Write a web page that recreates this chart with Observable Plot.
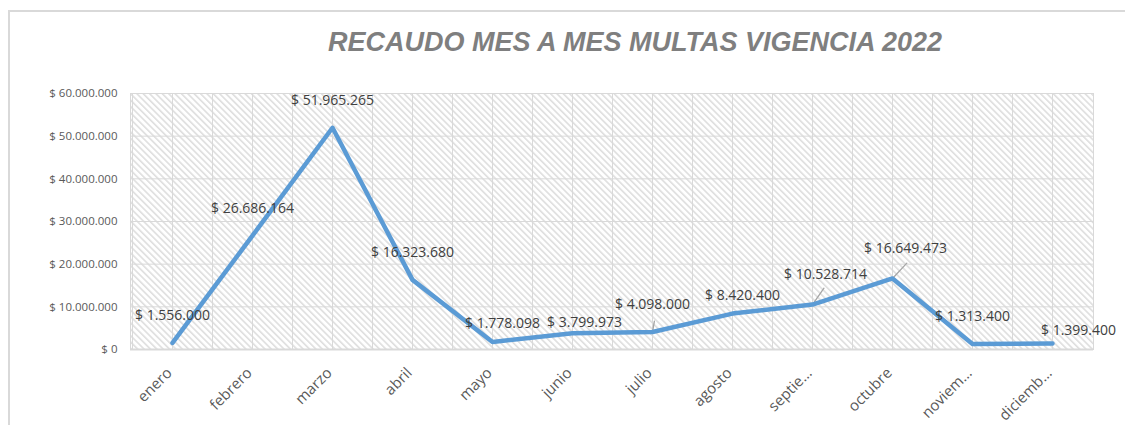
<!DOCTYPE html>
<html>
<head>
<meta charset="utf-8">
<script src="https://cdn.jsdelivr.net/npm/d3@7"></script>
<script src="https://cdn.jsdelivr.net/npm/@observablehq/plot@0.6"></script>
<style>
  body { margin: 0; background: #fff; }
  #wrap { position: relative; width: 1125px; height: 425px; overflow: hidden; }
  #border { position: absolute; left: 8px; top: 10px; width: 1300px; height: 600px;
            border-left: 2px solid #d9d9d9; border-top: 2px solid #d9d9d9; }
  #title { position: absolute; left: 135px; width: 1000px; top: 29px; margin: 0;
           text-align: center; font: italic bold 27px/26px "Liberation Sans", Arial, sans-serif;
           color: #7f7f7f; }
  #chart { position: absolute; left: 0; top: 0; }
</style>
</head>
<body>
<div id="wrap">
  <div id="border"></div>
  <div id="title">RECAUDO MES A MES MULTAS VIGENCIA 2022</div>
  <div id="chart"></div>
</div>
<script>
const months = ["enero","febrero","marzo","abril","mayo","junio","julio","agosto","septiembre","octubre","noviembre","diciembre"];
const tickLabels = ["enero","febrero","marzo","abril","mayo","junio","julio","agosto","septie...","octubre","noviem...","diciemb..."];
const values = [1556000, 26686164, 51965265, 16323680, 1778098, 3799973, 4098000, 8420400, 10528714, 16649473, 1313400, 1399400];
const yTicks = [0, 10000000, 20000000, 30000000, 40000000, 50000000, 60000000];

const data = months.map((m, i) => ({month: m, value: values[i], label: tickLabels[i]}));

const locale = d3.formatLocale({decimal: ",", thousands: ".", grouping: [3], currency: ["$ ", ""]});
const fmt = locale.format("$,.0f");

const gridColor = "#d9d9d9";
const labelFont = "'Open Sans', sans-serif";

const lineShape = {draw(context, l) { context.moveTo(0, 0); context.lineTo(0, -l); }};

function labels(names, dx, dy) {
  return Plot.text(data.filter(d => names.includes(d.month)), {
    x: "month", y: "value", text: d => fmt(d.value),
    dx, dy, fontFamily: labelFont, fontSize: 14, fill: "#404040", textAnchor: "middle"
  });
}
function leader(name, length, rotate) {
  return Plot.vector(data.filter(d => d.month === name), {
    x: "month", y: "value", length, rotate, anchor: "start",
    stroke: "#a6a6a6", strokeWidth: 1.3, shape: lineShape
  });
}

const plot = Plot.plot({
  width: 1125,
  height: 425,
  marginTop: 93,
  marginBottom: 76,
  marginLeft: 130,
  marginRight: 32,
  x: {type: "point", domain: months, padding: 0.5, axis: null},
  y: {domain: [0, 60000000], axis: null},
  style: {background: "transparent", overflow: "visible"},
  marks: [
    Plot.frame({fill: "url(#hatch)"}),
    Plot.ruleX(months, {stroke: gridColor, strokeWidth: 1}),
    Plot.ruleX(months, {stroke: gridColor, strokeWidth: 1, dx: -40}),
    Plot.ruleY(yTicks, {stroke: gridColor, strokeWidth: 1}),
    Plot.frame({stroke: gridColor, strokeWidth: 1}),
    Plot.ruleY([0], {stroke: gridColor, strokeWidth: 2}),
    Plot.axisY({ticks: yTicks, tickSize: 0, tickPadding: 13, tickFormat: fmt, label: null,
                fontSize: 11.5, fontFamily: labelFont, fill: "#595959"}),
    Plot.text(data, {x: "month", text: "label", frameAnchor: "bottom", rotate: -45,
                     textAnchor: "end", lineAnchor: "middle", dx: -3, dy: 21,
                     fontSize: 15, fontFamily: labelFont, fill: "#595959"}),
    leader("julio", 11, 10),
    leader("septiembre", 20, 35),
    leader("octubre", 21, 43),
    Plot.line(data, {x: "month", y: "value", stroke: "#5B9BD5", strokeWidth: 4.5,
                     strokeLinejoin: "round", strokeLinecap: "round"}),
    labels(["enero","febrero","marzo","abril","julio","noviembre"], 0, -27),
    labels(["mayo","agosto"], 10, -18),
    labels(["junio"], 12, -11),
    labels(["septiembre","octubre"], 13, -30),
    labels(["diciembre"], 26, -13)
  ]
});

// hatch pattern definition (downward diagonal)
const ns = "http://www.w3.org/2000/svg";
const defs = document.createElementNS(ns, "defs");
const pat = document.createElementNS(ns, "pattern");
pat.setAttribute("id", "hatch");
pat.setAttribute("patternUnits", "userSpaceOnUse");
pat.setAttribute("width", "4.5");
pat.setAttribute("height", "4.5");
pat.setAttribute("patternTransform", "rotate(45)");
const bg = document.createElementNS(ns, "rect");
bg.setAttribute("width", "4.5"); bg.setAttribute("height", "4.5"); bg.setAttribute("fill", "#ffffff");
const ln = document.createElementNS(ns, "line");
ln.setAttribute("x1", "0"); ln.setAttribute("y1", "1"); ln.setAttribute("x2", "4.5"); ln.setAttribute("y2", "1");
ln.setAttribute("stroke", "#dedede"); ln.setAttribute("stroke-width", "1.6");
pat.appendChild(bg); pat.appendChild(ln);
defs.appendChild(pat);
plot.insertBefore(defs, plot.firstChild);

document.getElementById("chart").appendChild(plot);
</script>
</body>
</html>
